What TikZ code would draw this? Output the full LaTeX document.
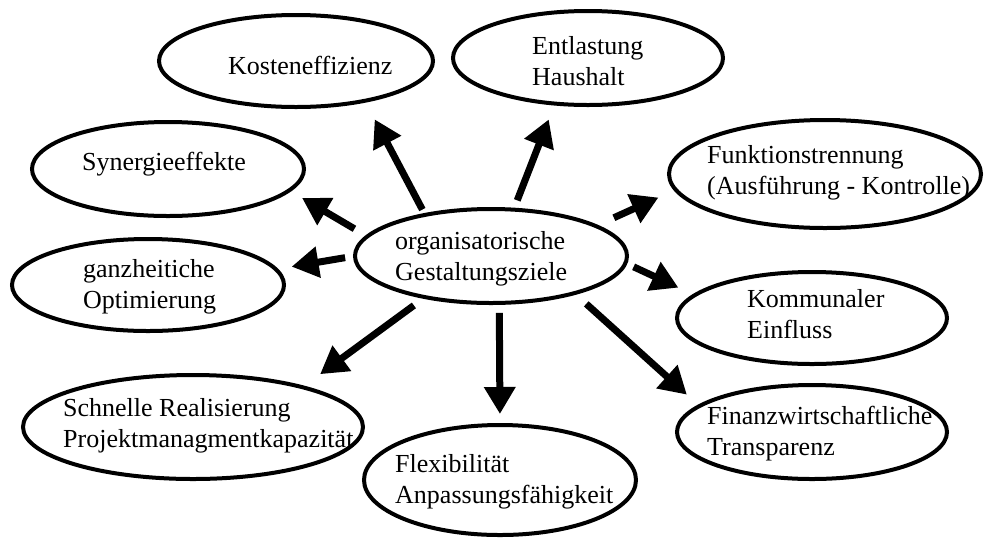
\documentclass[tikz,border=0pt]{standalone}
\usepackage{fontspec}
\setmainfont{Liberation Serif}
\usetikzlibrary{shapes.geometric}
\usetikzlibrary{arrows.meta}
\tikzset {
  % goal ellipse
  ziel/.style = {
    draw = black,
    ellipse,
    line width = 4pt,
    inner sep = 0,
    outer sep = 0
  },
  % text set into a goal ellipse (base = last line)
  ziel text/.style = {
    anchor = base west,
    align = left,
    inner sep = 0,
    font = \fontsize{26pt}{31pt}\selectfont
  },
  % thick arrow from the centre
  pfeil/.style = {
    line width = 7pt,
    -{Triangle[length = 27pt, width = 30pt]}
  }
}

\begin{document}
\begin{tikzpicture}[x=1pt, y=1pt]
  \useasboundingbox (0,0) rectangle (984,-539);

  \node[ziel, minimum width=272pt, minimum height=94pt] (zentrum) at (491,-256) {};
  \node[ziel, minimum width=274pt, minimum height=92pt] (kosten) at (296,-61) {};
  \node[ziel, minimum width=270pt, minimum height=94pt] (entlastung) at (588,-58) {};
  \node[ziel, minimum width=272pt, minimum height=94pt] (synergie) at (168,-169) {};
  \node[ziel, minimum width=272pt, minimum height=92pt] (ganzheit) at (148,-285) {};
  \node[ziel, minimum width=312pt, minimum height=108pt] (funktion) at (825,-174) {};
  \node[ziel, minimum width=270pt, minimum height=92pt] (kommunal) at (812,-318) {};
  \node[ziel, minimum width=270pt, minimum height=94pt] (finanz) at (812,-432) {};
  \node[ziel, minimum width=272pt, minimum height=110pt] (flex) at (500,-480) {};
  \node[ziel, minimum width=340pt, minimum height=104pt] (schnell) at (193,-427) {};

  \node[ziel text] (zentrum-text) at (395,-280) {organisatorische\\Gestaltungsziele};
  \node[ziel text] (kosten-text) at (228,-74) {Kosteneffizienz};
  \node[ziel text] (entlastung-text) at (532,-85) {Entlastung\\Haushalt};
  \node[ziel text] (synergie-text) at (82,-170) {Synergieeffekte};
  \node[ziel text] (ganzheit-text) at (83,-308) {ganzheitiche\\Optimierung};
  \node[ziel text] (funktion-text) at (707,-194) {Funktionstrennung\\(Ausführung - Kontrolle)};
  \node[ziel text] (kommunal-text) at (747,-338) {Kommunaler\\Einfluss};
  \node[ziel text] (finanz-text) at (707,-455) {Finanzwirtschaftliche\\Transparenz};
  \node[ziel text] (flex-text) at (395,-503) {Flexibilität\\Anpassungsfähigkeit};
  \node[ziel text] (schnell-text) at (63,-447) {Schnelle Realisierung\\Projektmanagmentkapazität};

  \draw[pfeil, shorten <=6pt, shorten >=21pt] (zentrum.148) -- (kosten.-30);
  \draw[pfeil, shorten <=15pt, shorten >=15pt] (zentrum.171) -- (synergie.-10);
  \draw[pfeil, shorten <=10pt, shorten >=16pt] (zentrum.180) -- (ganzheit.7);
  \draw[pfeil, shorten <=10pt, shorten >=17pt] (zentrum.64) -- (entlastung.-126);
  \draw[pfeil, shorten <=20pt, shorten >=19pt] (zentrum.16) -- (funktion.-174);
  \draw[pfeil, shorten <=9pt, shorten >=18pt] (zentrum.-3) -- (kommunal.169);
  \draw[pfeil, shorten <=16pt, shorten >=17pt] (zentrum.-24) -- (finanz.167);
  \draw[pfeil, shorten <=10pt, shorten >=11pt] (zentrum.-80) -- (flex.north);
  \draw[pfeil, shorten <=14pt, shorten >=22pt] (zentrum.-148) -- (schnell.20);
\end{tikzpicture}
\end{document}
